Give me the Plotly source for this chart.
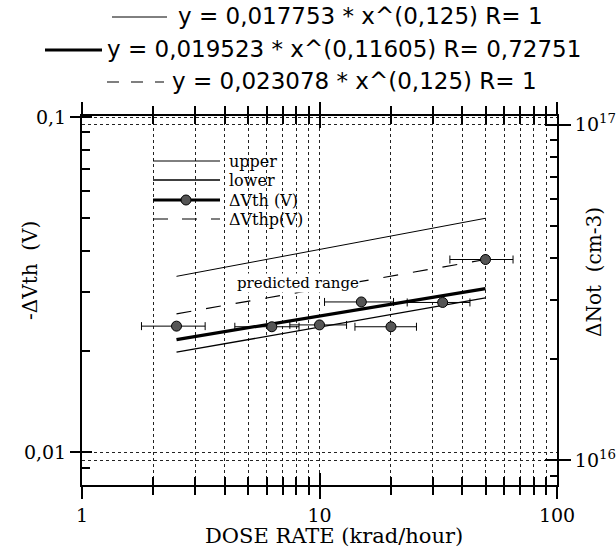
import plotly.graph_objects as go

# ---------------- data ----------------
dose = [2.5, 6.3, 10, 15, 20, 33, 50]
dvth = [0.0238, 0.0237, 0.0240, 0.0281, 0.0237, 0.0280, 0.0376]
dose_lo = [1.78, 4.4, 7.5, 10.5, 14.1, 23.4, 35.4]
dose_hi = [3.3, 8.2, 13.0, 20.5, 25.6, 43.0, 65.3]

line_x = [2.5, 50]
upper_y = [0.0335, 0.0499]
lower_y = [0.0199, 0.0289]
fit_y = [0.0217, 0.0308]
pred_y = [0.0259, 0.0376]

x_ticks = [1, 10, 100]
x_ticktext = ["1", "10", "100"]
x_minor = [2, 3, 4, 5, 6, 7, 8, 9, 20, 30, 40, 50, 60, 70, 80, 90]
y_ticks = [0.01, 0.1]
y_ticktext = ["0,01", "0,1"]
y_minor = [0.009, 0.02, 0.03, 0.04, 0.05, 0.06, 0.07, 0.08, 0.09]
y2_ticks = [1e16, 1e17]
y2_ticktext = ["10<sup>16</sup>", "10<sup>17</sup>"]
y2_minor = [9e15, 2e16, 3e16, 4e16, 5e16, 6e16, 7e16, 8e16, 9e16]

legend_names = ["upper", "lower", "ΔVth (V)", "ΔVthp(V)"]
eq_texts = [
    "y = 0,017753 * x^(0,125) R= 1",
    "y = 0,019523 * x^(0,11605) R= 0,72751",
    "y = 0,023078 * x^(0,125) R= 1",
]

# ---------------- layout geometry ----------------
W, H = 616, 547
L, R, T, B = 82, 59, 116, 62
PW, PH = W - L - R, H - T - B


def px(xp):
    return (xp - L) / PW


def py(yp):
    return (H - B - yp) / PH


SERIF = "DejaVu Serif"
SANS = "DejaVu Sans"
GRID = "#222222"
MARK = "#555555"

err_plus = [h - x for h, x in zip(dose_hi, dose)]
err_minus = [x - l for l, x in zip(dose_lo, dose)]

fig = go.Figure()
fig.add_trace(go.Scatter(x=line_x, y=upper_y, mode="lines", name=legend_names[0],
                         line=dict(color="black", width=1)))
fig.add_trace(go.Scatter(x=line_x, y=lower_y, mode="lines", name=legend_names[1],
                         line=dict(color="black", width=1.3)))
fig.add_trace(go.Scatter(x=line_x, y=fit_y, mode="lines", name=legend_names[2],
                         line=dict(color="black", width=3.2)))
fig.add_trace(go.Scatter(x=line_x, y=pred_y, mode="lines", name=legend_names[3],
                         line=dict(color="black", width=1.2, dash="15px,15px")))
fig.add_trace(go.Scatter(x=dose, y=dvth, mode="markers", name="ΔVth points",
                         marker=dict(size=10, color=MARK,
                                     line=dict(color="black", width=1)),
                         error_x=dict(type="data", symmetric=False,
                                      array=err_plus, arrayminus=err_minus,
                                      color="black", thickness=1, width=4)))
# carrier traces for the overlay axes
for xa, ya in [("x2", "y"), ("x", "y2"), ("x", "y3"), ("x", "y4")]:
    fig.add_trace(go.Scatter(x=[1], y=[None], xaxis=xa, yaxis=ya,
                             showlegend=False, hoverinfo="skip", mode="lines"))

xr = [0, 2]
yr = [-2.097, -0.997]
y2r = [15.926, 17.026]

fig.update_layout(
    width=W, height=H,
    margin=dict(l=L, r=R, t=T, b=B, autoexpand=False),
    paper_bgcolor="white", plot_bgcolor="white",
    showlegend=False,
    xaxis=dict(type="log", range=xr, showline=True, linecolor="black", linewidth=2,
               mirror="ticks", ticks="outside", ticklen=12, tickwidth=2,
               tickcolor="black", tickvals=x_ticks, ticktext=x_ticktext,
               tickfont=dict(family=SERIF, size=19, color="black"),
               showgrid=True, gridcolor=GRID, griddash="dot", gridwidth=1,
               zeroline=False, automargin=False,
               minor=dict(tickvals=x_minor, ticks="outside", ticklen=8,
                          tickwidth=1.5, tickcolor="black", showgrid=True,
                          gridcolor=GRID, griddash="dot", gridwidth=1)),
    xaxis2=dict(type="log", range=xr, overlaying="x", anchor="y", side="bottom",
                showline=False, mirror="ticks", ticks="inside", ticklen=12,
                tickwidth=2, tickcolor="black", tickvals=x_ticks,
                showticklabels=False, showgrid=False, zeroline=False,
                automargin=False,
                minor=dict(tickvals=x_minor, ticks="inside", ticklen=8,
                           tickwidth=1.5, tickcolor="black", showgrid=False)),
    yaxis=dict(type="log", range=yr, showline=True, linecolor="black", linewidth=2,
               ticks="outside", ticklen=10, tickwidth=2, tickcolor="black",
               tickvals=y_ticks, ticktext=y_ticktext,
               tickfont=dict(family=SERIF, size=19, color="black"),
               showgrid=True, gridcolor=GRID, griddash="dot", gridwidth=1,
               zeroline=False, automargin=False,
               minor=dict(tickvals=y_minor, ticks="inside", ticklen=8,
                          tickwidth=1.5, tickcolor="black", showgrid=False)),
    yaxis3=dict(type="log", range=yr, overlaying="y", anchor="x", side="left",
                showline=False, ticks="inside", ticklen=10, tickwidth=2,
                tickcolor="black", tickvals=y_ticks, showticklabels=False,
                showgrid=False, zeroline=False, automargin=False),
    yaxis2=dict(type="log", range=y2r, overlaying="y", anchor="x", side="right",
                showline=True, linecolor="black", linewidth=2,
                ticks="outside", ticklen=12, tickwidth=2, tickcolor="black",
                tickvals=y2_ticks, ticktext=y2_ticktext,
                tickfont=dict(family=SERIF, size=19, color="black"),
                showgrid=True, gridcolor=GRID, griddash="dot", gridwidth=1,
                zeroline=False, automargin=False,
                minor=dict(tickvals=y2_minor, ticks="inside", ticklen=7,
                           tickwidth=1.5, tickcolor="black", showgrid=False)),
    yaxis4=dict(type="log", range=y2r, overlaying="y", anchor="x", side="right",
                showline=False, ticks="inside", ticklen=12, tickwidth=2,
                tickcolor="black", tickvals=y2_ticks, showticklabels=False,
                showgrid=False, zeroline=False, automargin=False),
)

annotations = [
    dict(text="-ΔVth\u00a0\u00a0(V)", x=px(30), y=py(271), xref="paper", yref="paper",
         textangle=-90, showarrow=False, xanchor="center", yanchor="middle",
         font=dict(family=SERIF, size=20, color="black")),
    dict(text="ΔNot\u00a0\u00a0(cm-3)", x=px(594), y=py(272), xref="paper", yref="paper",
         textangle=-90, showarrow=False, xanchor="center", yanchor="middle",
         font=dict(family=SERIF, size=20, color="black")),
    dict(text="DOSE RATE (krad/hour)", x=px(334), y=py(536), xref="paper", yref="paper",
         showarrow=False, xanchor="center", yanchor="middle",
         font=dict(family=SERIF, size=21, color="black")),
    dict(text="predicted range", x=0.909, y=-1.4955, xref="x", yref="y",
         showarrow=False, xanchor="center", yanchor="middle", bgcolor="white",
         borderpad=0, font=dict(family=SERIF, size=15, color="black")),
]
# equation header lines
eq_pos = [(176, 16), (105, 49), (170, 81)]
for txt, (xp, yp) in zip(eq_texts, eq_pos):
    annotations.append(dict(text=txt, x=px(xp), y=py(yp), xref="paper", yref="paper",
                            showarrow=False, xanchor="left", yanchor="middle",
                            font=dict(family=SANS, size=23, color="black")))
# hand-drawn legend (text)
leg_rows = [161, 180, 200, 219]
for name, yp in zip(legend_names, leg_rows):
    annotations.append(dict(text=name, x=px(227), y=py(yp), xref="paper", yref="paper",
                            showarrow=False, xanchor="left", yanchor="middle",
                            font=dict(family=SERIF, size=16, color="black")))
fig.update_layout(annotations=annotations)


def hline(x0, x1, yp, width, dash="solid", layer="above"):
    return dict(type="line", xref="paper", yref="paper", x0=px(x0), x1=px(x1),
                y0=py(yp), y1=py(yp), layer=layer,
                line=dict(color="black", width=width, dash=dash))


shapes = [
    # header samples
    hline(112, 167, 17, 1),
    hline(45, 102, 50, 3),
    hline(107, 164, 82, 1.2, "12px,12px"),
    # legend background
    dict(type="rect", xref="paper", yref="paper", x0=px(148), x1=px(316),
         y0=py(236), y1=py(133), layer="between", fillcolor="white",
         line=dict(width=0)),
    # legend samples
    hline(153, 220, leg_rows[0], 1),
    hline(153, 220, leg_rows[1], 1.6),
    hline(153, 220, leg_rows[2], 3),
    hline(153, 220, leg_rows[3], 1.2, "15px,14px"),
    dict(type="circle", xref="paper", yref="paper",
         x0=px(181), x1=px(191), y0=py(leg_rows[2] + 5), y1=py(leg_rows[2] - 5),
         fillcolor=MARK, line=dict(color="black", width=1), layer="above"),
]
fig.update_layout(shapes=shapes)

fig.write_html("out.html", config={"displayModeBar": False},
               post_script="document.body.style.margin='0px';")
